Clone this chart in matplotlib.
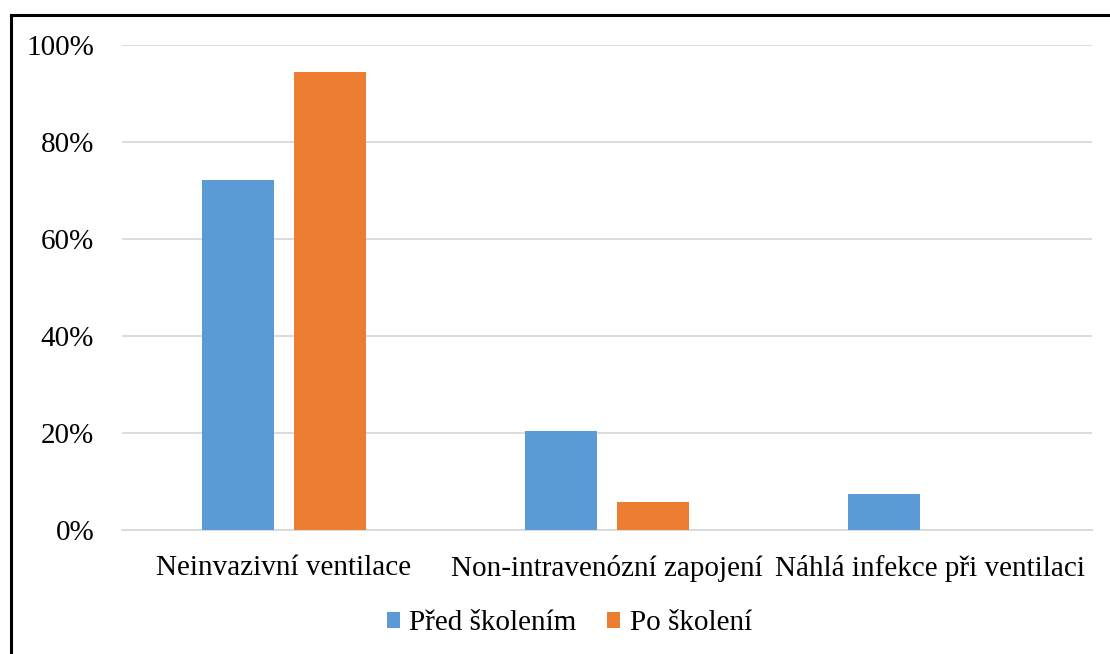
import matplotlib.pyplot as plt
import numpy as np
from matplotlib.patches import Rectangle
from matplotlib.ticker import PercentFormatter

categories = ["Neinvazivní ventilace", "Non-intravenózní zapojení", "Náhlá infekce při ventilaci"]
pred = [72.2, 20.4, 7.4]
po = [94.4, 5.8, 0.0]
series_names = ["Před školením", "Po školení"]

plt.rcParams['font.family'] = ['Liberation Serif', 'DejaVu Serif']

fig = plt.figure(figsize=(11.1, 6.54), dpi=100)
ax = fig.add_axes([0.1099, 0.1896, 0.8739, 0.7416])

x = np.arange(len(categories))
w = 0.223
ax.bar(x - 0.142, pred, w, color='#5B9BD5', label=series_names[0], zorder=3)
ax.bar(x + 0.142, po, w, color='#ED7D31', label=series_names[1], zorder=3)

ax.set_xlim(-0.5, 2.5)
ax.set_ylim(0, 100)
ax.set_yticks(np.arange(0, 101, 20))
ax.yaxis.set_major_formatter(PercentFormatter(decimals=0))
ax.set_xticks(x)
ax.set_xticklabels(categories)
ax.tick_params(axis='both', length=0, labelsize=21, colors='black')
ax.tick_params(axis='x', pad=18)
ax.tick_params(axis='y', pad=20)
ax.grid(axis='y', color='#D9D9D9', linewidth=1.3, zorder=0)
for s in ['top', 'right', 'left']:
    ax.spines[s].set_visible(False)
ax.spines['bottom'].set_color('#D9D9D9')
ax.spines['bottom'].set_linewidth(1.3)

fig.legend(loc='center', bbox_to_anchor=(0.513, 0.047), ncol=2, frameon=False,
           fontsize=21, handlelength=0.45, handleheight=0.45, handletextpad=0.33,
           columnspacing=1.05)

fig.patches.append(Rectangle((11 / 1110, -0.1), 1.2, 1.1 - 15 / 654,
                             transform=fig.transFigure, fill=False,
                             edgecolor='black', linewidth=2.2))

fig.savefig('out.png', dpi=100)
